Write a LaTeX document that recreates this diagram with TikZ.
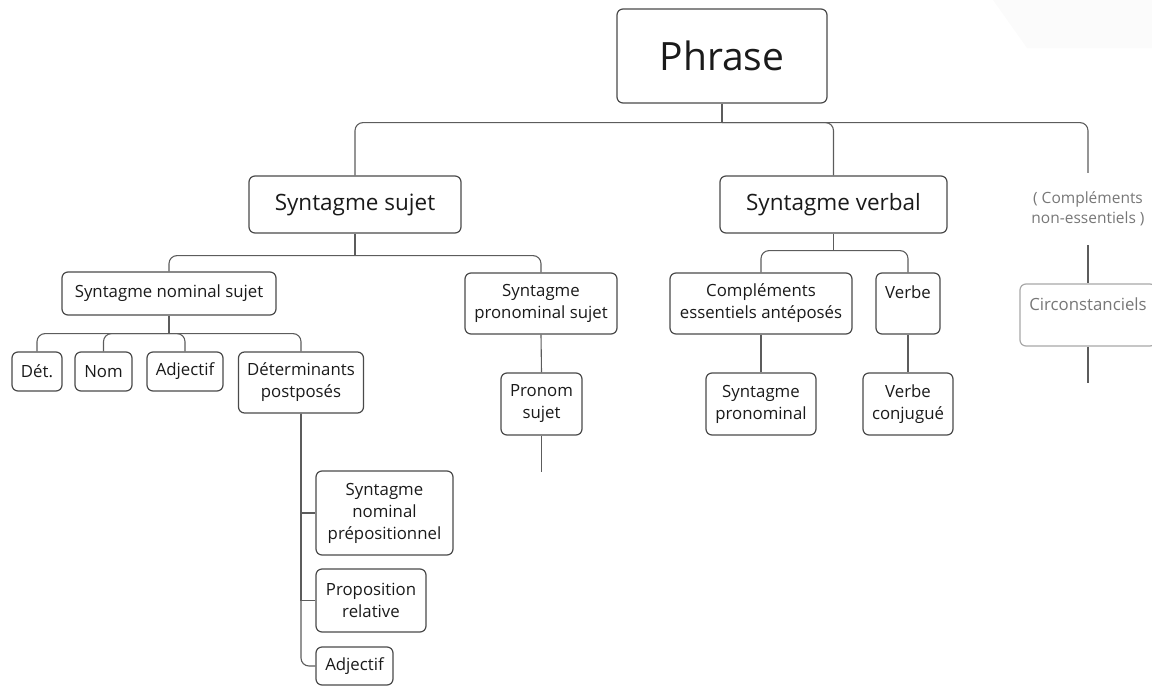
\documentclass[tikz,border=0pt]{standalone}
\usepackage{fontspec}
\setmainfont{Open Sans}
\usepackage{tikz}

\definecolor{boxline}{HTML}{4A4A4A}
\definecolor{linkline}{HTML}{5C5C5C}
\definecolor{inktext}{HTML}{1A1A1A}
\definecolor{faintgrey}{HTML}{777777}
\definecolor{faintline}{HTML}{A8A8A8}

\begin{document}
\begin{tikzpicture}[x=1pt,y=1pt]
        \tikzstyle{box} = [draw=boxline,line width=1.2pt,rounded corners=6pt,align=center,text=inktext,inner xsep=3pt,inner ysep=0pt,font=\fontsize{16.8}{22}\selectfont]
        \tikzstyle{bigbox} = [box,font=\fontsize{22.5}{27}\selectfont]
        \tikzstyle{greybox} = [box,draw=faintline,text=faintgrey]
        \tikzstyle{link} = [draw=linkline,line width=1.1pt]
        \tikzstyle{elbow} = [link,rounded corners=8pt]

        \useasboundingbox (0,0) rectangle (1152,-686);
        \fill[black!1.5] (993,0) -- (1027,-48) -- (1152,-48) -- (1152,0) -- cycle;

        \node[box,font=\fontsize{39}{44}\selectfont,minimum width=210,minimum height=94] (phrase) at (722,-56) {Phrase};

        \node[bigbox,minimum width=212,minimum height=57] (ssujet) at (355,-204.5) {Syntagme sujet};
        \node[bigbox,minimum width=227,minimum height=57] (sverbal) at (833.5,-204.5) {Syntagme verbal};
        \node[align=center,text=faintgrey,font=\fontsize{15.5}{20}\selectfont,minimum height=72,inner sep=0pt] (nonessentiels) at (1088,-209) {( Compléments\\non-essentiels )};
        \node[greybox,minimum width=136,minimum height=62] (circ) at (1088,-315) {Circonstanciels\\~};

        \node[box,minimum width=214,minimum height=43] (snsujet) at (169,-293.5) {Syntagme nominal sujet};
        \node[box,minimum width=152,minimum height=61] (spsujet) at (541,-303.5) {Syntagme\\pronominal sujet};
        \node[box,minimum width=182,minimum height=61] (complements) at (761,-303.5) {Compléments\\essentiels antéposés};
        \node[box,minimum width=64,minimum height=61] (verbe) at (908,-303.5) {Verbe\\~};

        \node[box,minimum width=50,minimum height=39] (det) at (37,-371.5) {Dét.};
        \node[box,minimum width=57,minimum height=39] (nom) at (103.5,-371.5) {Nom};
        \node[box,minimum width=76,minimum height=39] (adjA) at (185,-371.5) {Adjectif};
        \node[box,minimum width=125,minimum height=61] (detpost) at (301,-382.5) {Déterminants\\postposés};

        \node[box,minimum width=81,minimum height=62] (pronom) at (541.5,-404) {Pronom\\sujet};
        \node[box,minimum width=110,minimum height=62] (spron) at (761,-404) {Syntagme\\pronominal};
        \node[box,minimum width=90,minimum height=62] (vconj) at (908,-404) {Verbe\\conjugué};

        \node[box,minimum width=137,minimum height=84] (snprep) at (384.5,-513) {Syntagme\\nominal\\prépositionnel};
        \node[box,minimum width=110,minimum height=63] (proprel) at (371,-600.5) {Proposition\\relative};
        \node[box,minimum width=77,minimum height=38] (adjB) at (354.5,-666) {Adjectif};

        \coordinate (pronomend) at (541.5,-472);
        \coordinate (circend) at (1088,-383);

        \draw[link] (phrase.south) -- ++(0,-19) coordinate (jphrase);
        \draw[elbow] (jphrase) -| (ssujet.north);
        \draw[elbow] (jphrase) -| (sverbal.north);
        \draw[elbow] (jphrase) -| (nonessentiels.north);
        \draw[link] (nonessentiels.south) -- (circ.north);
        \draw[link] (circ.south) -- (circend);

        \draw[link] (ssujet.south) -- ++(0,-22) coordinate (jsujet);
        \draw[elbow] (jsujet) -| (snsujet.north);
        \draw[elbow] (jsujet) -| (spsujet.north);
        \draw[link] (spsujet.south) -- (pronom.north);
        \draw[link] (pronom.south) -- (pronomend);

        \draw[link] (sverbal.south) -- ++(0,-17) coordinate (jverbal);
        \draw[elbow] (jverbal) -| (complements.north);
        \draw[elbow] (jverbal) -| (verbe.north);
        \draw[link] (complements.south) -- (spron.north);
        \draw[link] (verbe.south) -- (vconj.north);

        \draw[link] (snsujet.south) -- ++(0,-18) coordinate (jnominal);
        \draw[elbow] (jnominal) -| (det.north);
        \draw[elbow] (jnominal) -| (nom.north);
        \draw[elbow] (jnominal) -| (adjA.north);
        \draw[elbow] (jnominal) -| (detpost.north);

        \draw[link] (detpost.south) |- (snprep.west);
        \draw[link] (detpost.south) |- (proprel.west);
        \draw[elbow] (detpost.south) |- (adjB.west);
    \end{tikzpicture}
\end{document}
